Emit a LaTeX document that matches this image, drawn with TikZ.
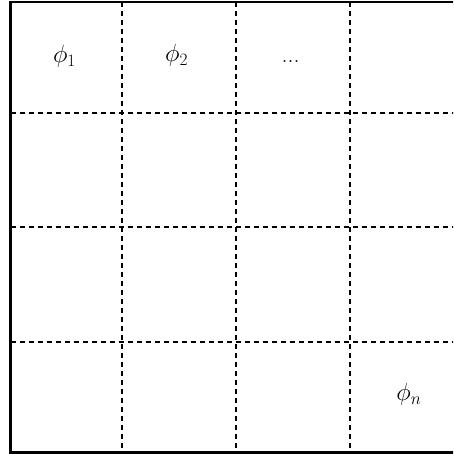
\documentclass[tikz,border=0pt]{standalone}
\begin{document}
\begin{tikzpicture}[x=1pt,y=1pt,
  frame/.style={line width=2.4pt},
  gridline/.style={line width=2.2pt,dash pattern=on 5.5pt off 3.5pt},
  lbl/.style={anchor=base,inner sep=0pt,font=\fontsize{24}{29}\selectfont}]
\useasboundingbox (0,0) rectangle (453,454);
\begin{scope}
\clip (0,0) rectangle (453,454);
\draw[frame] (10.5,1.5) rectangle (463,452);
\foreach \x in {122,236,350} \draw[gridline] (\x,452) -- (\x,1.5);
\foreach \y in {341,227,112} \draw[gridline] (10.5,\y) -- (463,\y);
\end{scope}
\node[lbl] (p1) at (64.5,391) {$\phi_1$};
\node[lbl] (p2) at (176.5,392) {$\phi_2$};
\node[lbl] (dots) at (290.5,391) {...};
\node[lbl] (pn) at (409,53) {$\phi_n$};
\end{tikzpicture}
\end{document}
